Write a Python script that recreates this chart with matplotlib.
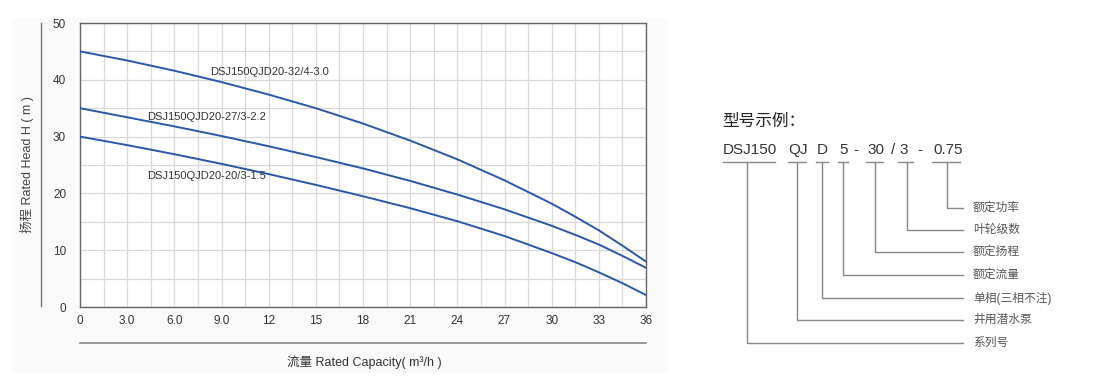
import matplotlib
matplotlib.use("Agg")
import matplotlib.pyplot as plt
from matplotlib.lines import Line2D

# ------------------------------------------------------------------
# Data
# ------------------------------------------------------------------
flow = [0, 3, 6, 9, 12, 15, 18, 21, 24, 27, 30, 31.5, 33, 34.5, 36]
head_32_4 = [45.0, 43.4, 41.6, 39.6, 37.4, 35.0, 32.3, 29.3, 26.0, 22.3, 18.2, 15.9, 13.5, 10.8, 8.0]
head_27_3 = [35.0, 33.4, 31.8, 30.1, 28.3, 26.4, 24.4, 22.2, 19.8, 17.2, 14.3, 12.7, 11.0, 9.0, 6.9]
head_20_3 = [30.0, 28.5, 26.9, 25.2, 23.4, 21.5, 19.5, 17.4, 15.1, 12.5, 9.5, 7.9, 6.1, 4.2, 2.1]

curve_names = ["DSJ150QJD20-32/4-3.0", "DSJ150QJD20-27/3-2.2", "DSJ150QJD20-20/3-1.5"]
label_pos = [(8.3, 41.4), (4.3, 33.4), (4.3, 23.1)]

xticks = [0, 3, 6, 9, 12, 15, 18, 21, 24, 27, 30, 33, 36]
xtick_labels = ["0", "3.0", "6.0", "9.0", "12", "15", "18", "21", "24", "27", "30", "33", "36"]
yticks = [0, 10, 20, 30, 40, 50]

code_parts = ["DSJ150", "QJ", "D", "5", "-", "30", "/", "3", "-", "0.75"]
code_x = [723, 788, 817, 839, 853, 867, 891, 899, 917, 933]
underlined = [(723, 775), (788, 806), (816, 828), (838, 848), (866, 883), (898, 913), (932, 960)]
drop_x = [747, 797, 822, 843, 875, 907, 947]
meanings = ["系列号", "井用潜水泵", "单相(三相不注)", "额定流量", "额定扬程", "叶轮级数", "额定功率"]
meaning_y = [343, 320, 298, 275, 252, 230, 208]

W, H = 1100, 390
BLUE = "#2b57a8"
NARROW = ["Liberation Sans Narrow", "Liberation Sans", "DejaVu Sans"]
CJK = ["Liberation Sans", "Noto Sans CJK SC", "DejaVu Sans"]

fig = plt.figure(figsize=(W / 100, H / 100), dpi=100)


def fx(px):
    return px / W


def fy(py):
    return 1 - py / H


# faint panel behind the chart
fig.patches.append(plt.Rectangle((fx(12), fy(372)), fx(655), fy(18) - fy(372),
                                 transform=fig.transFigure, color="#fafafa", zorder=-5))

ax = fig.add_axes([fx(80), fy(307), fx(646 - 80), fy(23) - fy(307)])
ax.set_zorder(2)
ax.set_xlim(0, 36)
ax.set_ylim(0, 50)

for hd in (head_32_4, head_27_3, head_20_3):
    ax.plot(flow, hd, color=BLUE, lw=1.4, zorder=3)

for name, (lx, ly) in zip(curve_names, label_pos):
    ax.text(lx, ly, name, fontsize=8, family=NARROW, color="#333333", va="center", ha="left")

ax.set_xticks(xticks)
ax.set_xticklabels(xtick_labels, family=NARROW, fontsize=8.5, color="#333333")
ax.set_xticks([x + 1.5 for x in xticks[:-1]], minor=True)
ax.set_yticks(yticks)
ax.set_yticklabels([str(v) for v in yticks], family=["Liberation Sans"], fontsize=8.5, color="#333333")
ax.set_yticks([5, 15, 25, 35, 45], minor=True)
ax.grid(True, which="both", color="#d9d9d9", lw=0.9)
ax.set_axisbelow(True)
ax.tick_params(which="both", length=0, pad=6)
ax.tick_params(axis="y", pad=10)
for s in ax.spines.values():
    s.set_color("#666666")
    s.set_linewidth(1.0)
ax.set_facecolor("white")

# side rule + y label
fig.add_artist(Line2D([fx(41), fx(41)], [fy(23), fy(306)], color="#777777", lw=1.0))
fig.text(fx(27), fy(165), "扬程 Rated Head H ( m )", rotation=90, ha="center", va="center",
         fontsize=9, family=CJK, color="#444444")

# rule under x ticks + x label
fig.add_artist(Line2D([fx(80), fx(646)], [fy(343), fy(343)], color="#888888", lw=1.2))
fig.text(fx(364), fy(362), "流量 Rated Capacity( m³/h )", ha="center", va="center",
         fontsize=9, family=["Liberation Sans Narrow", "Liberation Sans", "Noto Sans CJK SC"],
         color="#333333")

# ------------------------------------------------------------------
# Model code legend on the right
# ------------------------------------------------------------------
fig.text(fx(722), fy(121), "型号示例：", fontsize=12, family=["Noto Sans CJK SC"],
         color="#222222", va="center", ha="left")
for part, px in zip(code_parts, code_x):
    fig.text(fx(px), fy(150), part, fontsize=11, family=["Liberation Sans"],
             color="#333333", va="center", ha="left")
for x0, x1 in underlined:
    fig.add_artist(Line2D([fx(x0), fx(x1)], [fy(162), fy(162)], color="#888888", lw=1.0))
for dx, ty, txt in zip(drop_x, meaning_y, meanings):
    fig.add_artist(Line2D([fx(dx), fx(dx), fx(963)], [fy(162), fy(ty), fy(ty)],
                          color="#888888", lw=1.0))
    fig.text(fx(973), fy(ty), txt, fontsize=8.5, family=CJK, color="#555555",
             va="center", ha="left")

fig.savefig("out.png", dpi=100)
